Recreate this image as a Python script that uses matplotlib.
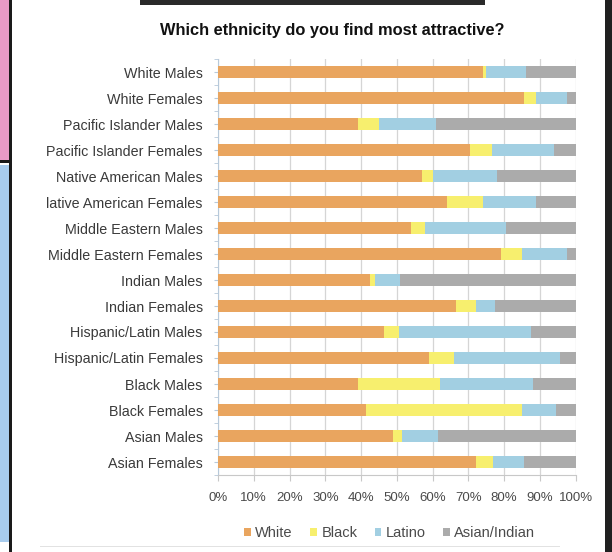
import matplotlib
matplotlib.use("Agg")
import matplotlib.pyplot as plt
import numpy as np
from matplotlib.patches import Rectangle

categories = ["White Males", "White Females", "Pacific Islander Males", "Pacific Islander Females",
              "Native American Males", "lative American Females", "Middle Eastern Males",
              "Middle Eastern Females", "Indian Males", "Indian Females", "Hispanic/Latin Males",
              "Hispanic/Latin Females", "Black Males", "Black Females", "Asian Males", "Asian Females"]
white  = [74, 85.5, 39, 70.5, 57, 64, 54, 79, 42.5, 66.5, 46.5, 59, 39, 41.5, 49, 72]
black  = [1, 3.5, 6, 6, 3, 10, 4, 6, 1.5, 5.5, 4, 7, 23, 43.5, 2.5, 5]
latino = [11, 8.5, 16, 17.5, 18, 15, 22.5, 12.5, 7, 5.5, 37, 29.5, 26, 9.5, 10, 8.5]
asian  = [14, 3, 39, 6, 22, 11, 19.5, 2.5, 49, 22.5, 12.5, 4.5, 12, 5.5, 38.5, 14.5]
series_names = ["White", "Black", "Latino", "Asian/Indian"]
xticks = [0, 10, 20, 30, 40, 50, 60, 70, 80, 90, 100]
title = "Which ethnicity do you find most attractive?"

colors = ["#E9A55F", "#F7EF6E", "#A2CFE2", "#ABABAB"]

plt.rcParams['font.family'] = ['Liberation Sans', 'DejaVu Sans']
fig = plt.figure(figsize=(6.12, 5.52), dpi=100)
fig.patch.set_facecolor("white")

# frame decorations from the photo
fig.patches.append(Rectangle((0, 1 - 160/552), 9/612, 160/552, transform=fig.transFigure,
                             facecolor="#E89AC6", edgecolor="none", zorder=0))
fig.patches.append(Rectangle((0, 10/552), 9/612, (542-165)/552, transform=fig.transFigure,
                             facecolor="#A8CCEE", edgecolor="none", zorder=0))
fig.patches.append(Rectangle((9/612, 0), 3/612, 1, transform=fig.transFigure,
                             facecolor="#1a1a1a", edgecolor="none", zorder=0))
fig.patches.append(Rectangle((0, 1 - 163/552), 12/612, 3/552, transform=fig.transFigure,
                             facecolor="#1a1a1a", edgecolor="none", zorder=0))
fig.patches.append(Rectangle((605/612, 0), 7/612, 1, transform=fig.transFigure,
                             facecolor="#202020", edgecolor="none", zorder=0))
fig.patches.append(Rectangle((140/612, 1 - 5/552), (485-140)/612, 5/552, transform=fig.transFigure,
                             facecolor="#2a2a2a", edgecolor="none", zorder=0))
fig.patches.append(Rectangle((40/612, 1 - 547/552), (560-40)/612, 1.5/552, transform=fig.transFigure,
                             facecolor="#E2E2E2", edgecolor="none", zorder=0))

ax = fig.add_axes([218/612, 1 - 475/552, (575.7-218)/612, (475-59)/552])
y = np.arange(len(categories))
left = np.zeros(len(categories))
for vals, c, name in zip([white, black, latino, asian], colors, series_names):
    v = np.array(vals, dtype=float)
    ax.barh(y, v, left=left, height=0.48, color=c, label=name, zorder=3)
    left += v

ax.set_xlim(0, 100)
ax.set_ylim(len(categories) - 0.5, -0.5)
ax.set_yticks(y)
ax.set_yticklabels(categories, fontsize=10.3, color="#3a3a3a")
ax.set_xticks(xticks)
ax.set_xticklabels([f"{t}%" for t in xticks], fontsize=9.5, color="#4a4a4a")
ax.xaxis.grid(True, color="#D5D5D5", linewidth=0.9, zorder=0)
ax.set_axisbelow(True)
for s in ["top", "right"]:
    ax.spines[s].set_visible(False)
ax.spines["left"].set_color("#B7C9DA")
ax.spines["bottom"].set_color("#C8C8C8")
ax.tick_params(axis="y", length=3, color="#B7C9DA", pad=8)
ax.tick_params(axis="x", length=4, color="#C8C8C8", pad=8)
ax.set_yticks(np.arange(-0.5, len(categories), 1), minor=True)
ax.tick_params(axis="y", which="minor", length=3, color="#B7C9DA")

fig.text(0.543, 1 - 31/552, title, ha="center", va="center", fontsize=11.8,
         fontweight="bold", color="#111111")

leg = fig.legend(loc="center", bbox_to_anchor=(0.637, 1 - 533/552), ncol=4, frameon=False,
                 fontsize=10.5, handlelength=0.45, handleheight=0.45, handletextpad=0.3,
                 columnspacing=1.2)
for t in leg.get_texts():
    t.set_color("#4a4a4a")

fig.savefig("out.png", dpi=100, facecolor="white")
